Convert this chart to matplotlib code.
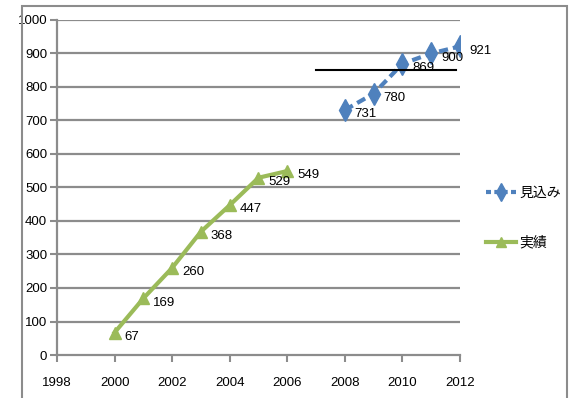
import matplotlib
matplotlib.use("Agg")
import matplotlib.pyplot as plt
from matplotlib import font_manager
from matplotlib.patches import Rectangle
from matplotlib.lines import Line2D

names = {f.name for f in font_manager.fontManager.ttflist}
base = "Liberation Sans Narrow" if "Liberation Sans Narrow" in names else "Liberation Sans"
plt.rcParams['font.family'] = [base, 'Noto Sans CJK JP', 'DejaVu Sans']

# data
years_actual = [2000, 2001, 2002, 2003, 2004, 2005, 2006]
actual = [67, 169, 260, 368, 447, 529, 549]
years_forecast = [2008, 2009, 2010, 2011, 2012]
forecast = [731, 780, 869, 900, 921]
ref_line_x = [2007, 2011.85]
ref_line_y = [850, 850]
label_forecast = "見込み"
label_actual = "実績"
xticks = list(range(1998, 2013, 2))
yticks = list(range(0, 1001, 100))

blue = "#4f81bd"
green = "#9bbb59"
grid = "#8c8c8c"

fig = plt.figure(figsize=(5.7, 3.98), dpi=100)
ax = fig.add_axes([0.1, 0.108, 0.707, 0.842])

# outer frame
fig.patches.append(Rectangle((22/570, -0.01), (567-22)/570, (398-6)/398 + 0.01,
                             transform=fig.transFigure, fill=False,
                             edgecolor="#8c8c8c", lw=1.5))

for y in yticks[1:]:
    ax.axhline(y, color=grid, lw=1.6, zorder=1)

ax.plot(years_forecast, forecast, color=blue, lw=3, ls=(0, (2.2, 1.2)),
        marker="d", ms=11, mfc=blue, mec=blue, zorder=3, label=label_forecast)
ax.plot(years_actual, actual, color=green, lw=3, marker="^", ms=8,
        mfc=green, mec=green, zorder=3, label=label_actual)
ax.plot(ref_line_x, ref_line_y, color="black", lw=1.5, zorder=4)

for x, y in zip(years_forecast, forecast):
    ax.annotate(str(y), (x, y), xytext=(7, -3), textcoords="offset points",
                fontsize=9.5, va="center", ha="left", zorder=5)
for x, y in zip(years_actual, actual):
    ax.annotate(str(y), (x, y), xytext=(7, -3), textcoords="offset points",
                fontsize=9.5, va="center", ha="left", zorder=5)

ax.set_xlim(1998, 2012)
ax.set_ylim(0, 1000)
ax.set_xticks(xticks)
ax.set_yticks(yticks)
ax.tick_params(axis="both", colors=grid, labelcolor="black", labelsize=9.5,
               length=5, width=1.5, direction="out")
ax.tick_params(axis="x", pad=11)
ax.tick_params(axis="y", pad=2)
for s in ["top", "right"]:
    ax.spines[s].set_visible(False)
for s in ["left", "bottom"]:
    ax.spines[s].set_color(grid)
    ax.spines[s].set_linewidth(1.6)
ax.patch.set_visible(False)

handles = [
    Line2D([], [], color=blue, lw=3, ls=(0, (1.2, 0.8)), marker="d", ms=9,
           mfc=blue, mec=blue),
    Line2D([], [], color=green, lw=3, marker="^", ms=7, mfc=green, mec=green),
]
fig.legend(handles, [label_forecast, label_actual], loc="upper left",
           bbox_to_anchor=(0.83, 0.565), frameon=False, handlelength=2.2,
           handletextpad=0.2, labelspacing=2.6,
           prop={"family": ['Noto Sans CJK JP', 'DejaVu Sans'], "size": 10})

fig.savefig("out.png", dpi=100)
